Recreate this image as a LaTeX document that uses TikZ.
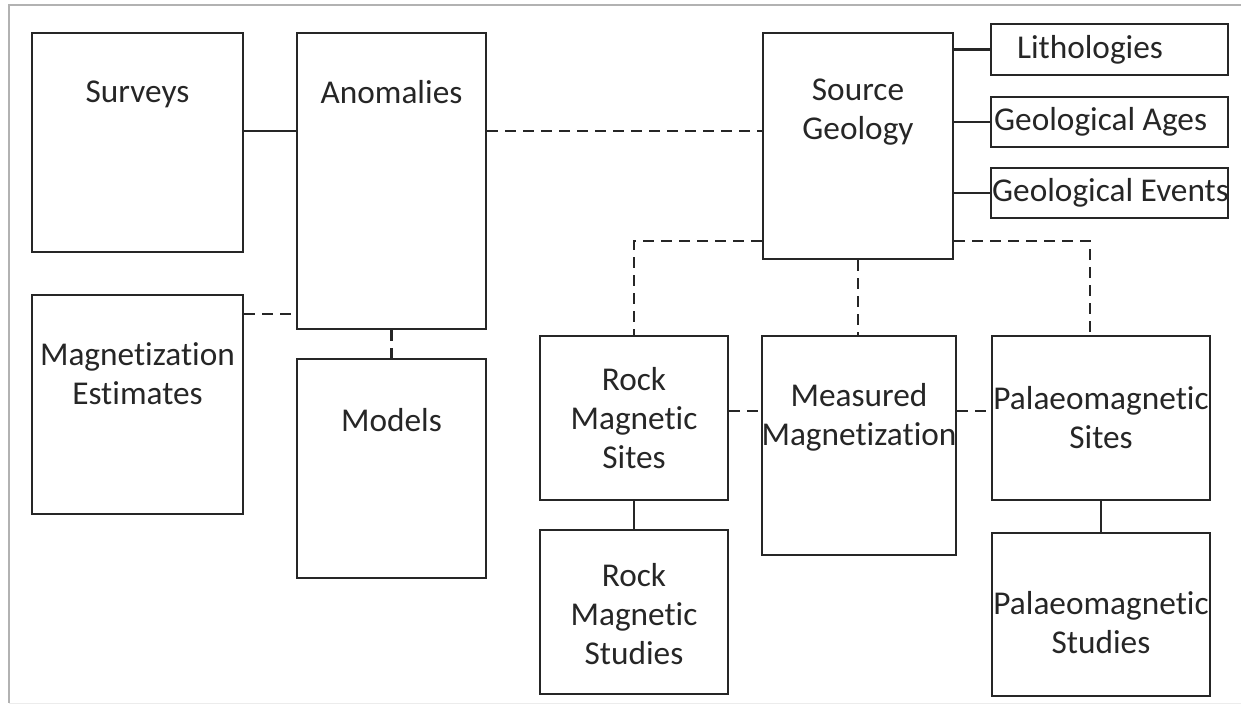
\documentclass[tikz,border=0pt]{standalone}
\usepackage{fontspec}
\setmainfont{Carlito}[Ligatures=NoCommon]
\usetikzlibrary{positioning,calc}

\tikzset{
  box/.style={draw=black!85,line width=2.4pt,rectangle,inner sep=0pt},
  txt/.style={font=\fontsize{33.3}{39}\selectfont,text=black!85,align=center,inner sep=0pt},
  solidlink/.style={draw=black!85,line width=2.4pt},
  dashlink/.style={draw=black!85,line width=2.4pt,dash pattern=on 11pt off 7pt}
}

\begin{document}
\begin{tikzpicture}[x=1pt,y=-1pt]
    \useasboundingbox (0,0) rectangle (1241,706);
    % screenshot frame
    \draw[gray!60,line width=1.2pt] (1241,5) -- (9,5) -- (9,703);
    \draw[gray!15,line width=1pt] (9,703) -- (1241,703);

    % left column
    \node[box,minimum width=211pt,minimum height=219pt] (surv) at (137.5,142.5) {};
    \node[txt] (survT) at ([yshift=-63pt]surv.north) {Surveys};
    \node[box,minimum width=211pt,minimum height=219pt] (magest) at (137.5,404.5) {};
    \node[txt] (magestT) at ([yshift=-80pt]magest.north) {Magnetization\\Estimates};

    % anomalies and models
    \node[box,minimum width=189pt,minimum height=296pt] (anom) at (391.5,181) {};
    \node[txt] (anomT) at ([yshift=-60pt]anom.north) {Anomalies};
    \node[box,minimum width=189pt,minimum height=219pt] (models) at (391.5,468.5) {};
    \node[txt] (modelsT) at ([yshift=-62pt]models.north) {Models};

    % source geology and its attributes
    \node[box,minimum width=190pt,minimum height=226pt] (geol) at (858,146) {};
    \node[txt] (geolT) at ([yshift=-80pt]geol.north) {Source\\Geology};
    \node[box,minimum width=237pt,minimum height=51pt] (lith) at (1109.5,49.5) {};
    \node[txt] (lithT) at (1090,50) {Lithologies};
    \node[box,minimum width=237pt,minimum height=50pt] (ages) at (1109.5,122) {};
    \node[txt,anchor=west] (agesT) at (994,122) {Geological Ages};
    \node[box,minimum width=237pt,minimum height=50pt] (evts) at (1109.5,193) {};
    \node[txt,anchor=west] (evtsT) at (992,193) {Geological Events};

    % lower row
    \node[box,minimum width=188pt,minimum height=164pt] (rsites) at (634,418) {};
    \node[txt] (rsitesT) at (rsites) {Rock\\Magnetic\\Sites};
    \node[box,minimum width=188pt,minimum height=164pt] (rstud) at (634,612) {};
    \node[txt] (rstudT) at ([yshift=-2pt]rstud) {Rock\\Magnetic\\Studies};
    \node[box,minimum width=194pt,minimum height=219pt] (meas) at (859,445.5) {};
    \node[txt] (measT) at ([yshift=-82pt]meas.north) {Measured\\Magnetization};
    \node[box,minimum width=218pt,minimum height=164pt] (psites) at (1101,418) {};
    \node[txt] (psitesT) at (psites) {Palaeomagnetic\\Sites};
    \node[box,minimum width=218pt,minimum height=163pt] (pstud) at (1101,614.5) {};
    \node[txt] (pstudT) at ([yshift=-8pt]pstud) {Palaeomagnetic\\Studies};

    % solid links
    \draw[solidlink] ([yshift=11.5pt]surv.east) -- ([yshift=11.5pt]surv.east -| anom.west);
    \draw[solidlink] (lith.west) -- (lith.west -| geol.east);
    \draw[solidlink] (ages.west) -- (ages.west -| geol.east);
    \draw[solidlink] (evts.west) -- (evts.west -| geol.east);
    \draw[solidlink] (rsites.south) -- (rstud.north);
    \draw[solidlink] (psites.south) -- (pstud.north);

    % dashed links
    \draw[dashlink] ([yshift=90.5pt]magest.east) -- ([yshift=90.5pt]magest.east -| anom.west);
    \draw[dashlink] (anom.south) -- (models.north);
    \draw[dashlink] ([yshift=50pt]anom.east) -- ([yshift=50pt]anom.east -| geol.west);
    \draw[dashlink] ([yshift=19pt]geol.south west) -| (rsites.north);
    \draw[dashlink] (geol.south) -- (geol.south |- meas.north);
    \draw[dashlink] ([yshift=19pt]geol.south east) -| ([xshift=-11pt]psites.north);
    \draw[dashlink] ([yshift=7pt]rsites.east) -- ([yshift=7pt]rsites.east -| meas.west);
    \draw[dashlink] ([yshift=34.5pt]meas.east) -- ([yshift=34.5pt]meas.east -| psites.west);
\end{tikzpicture}
\end{document}
